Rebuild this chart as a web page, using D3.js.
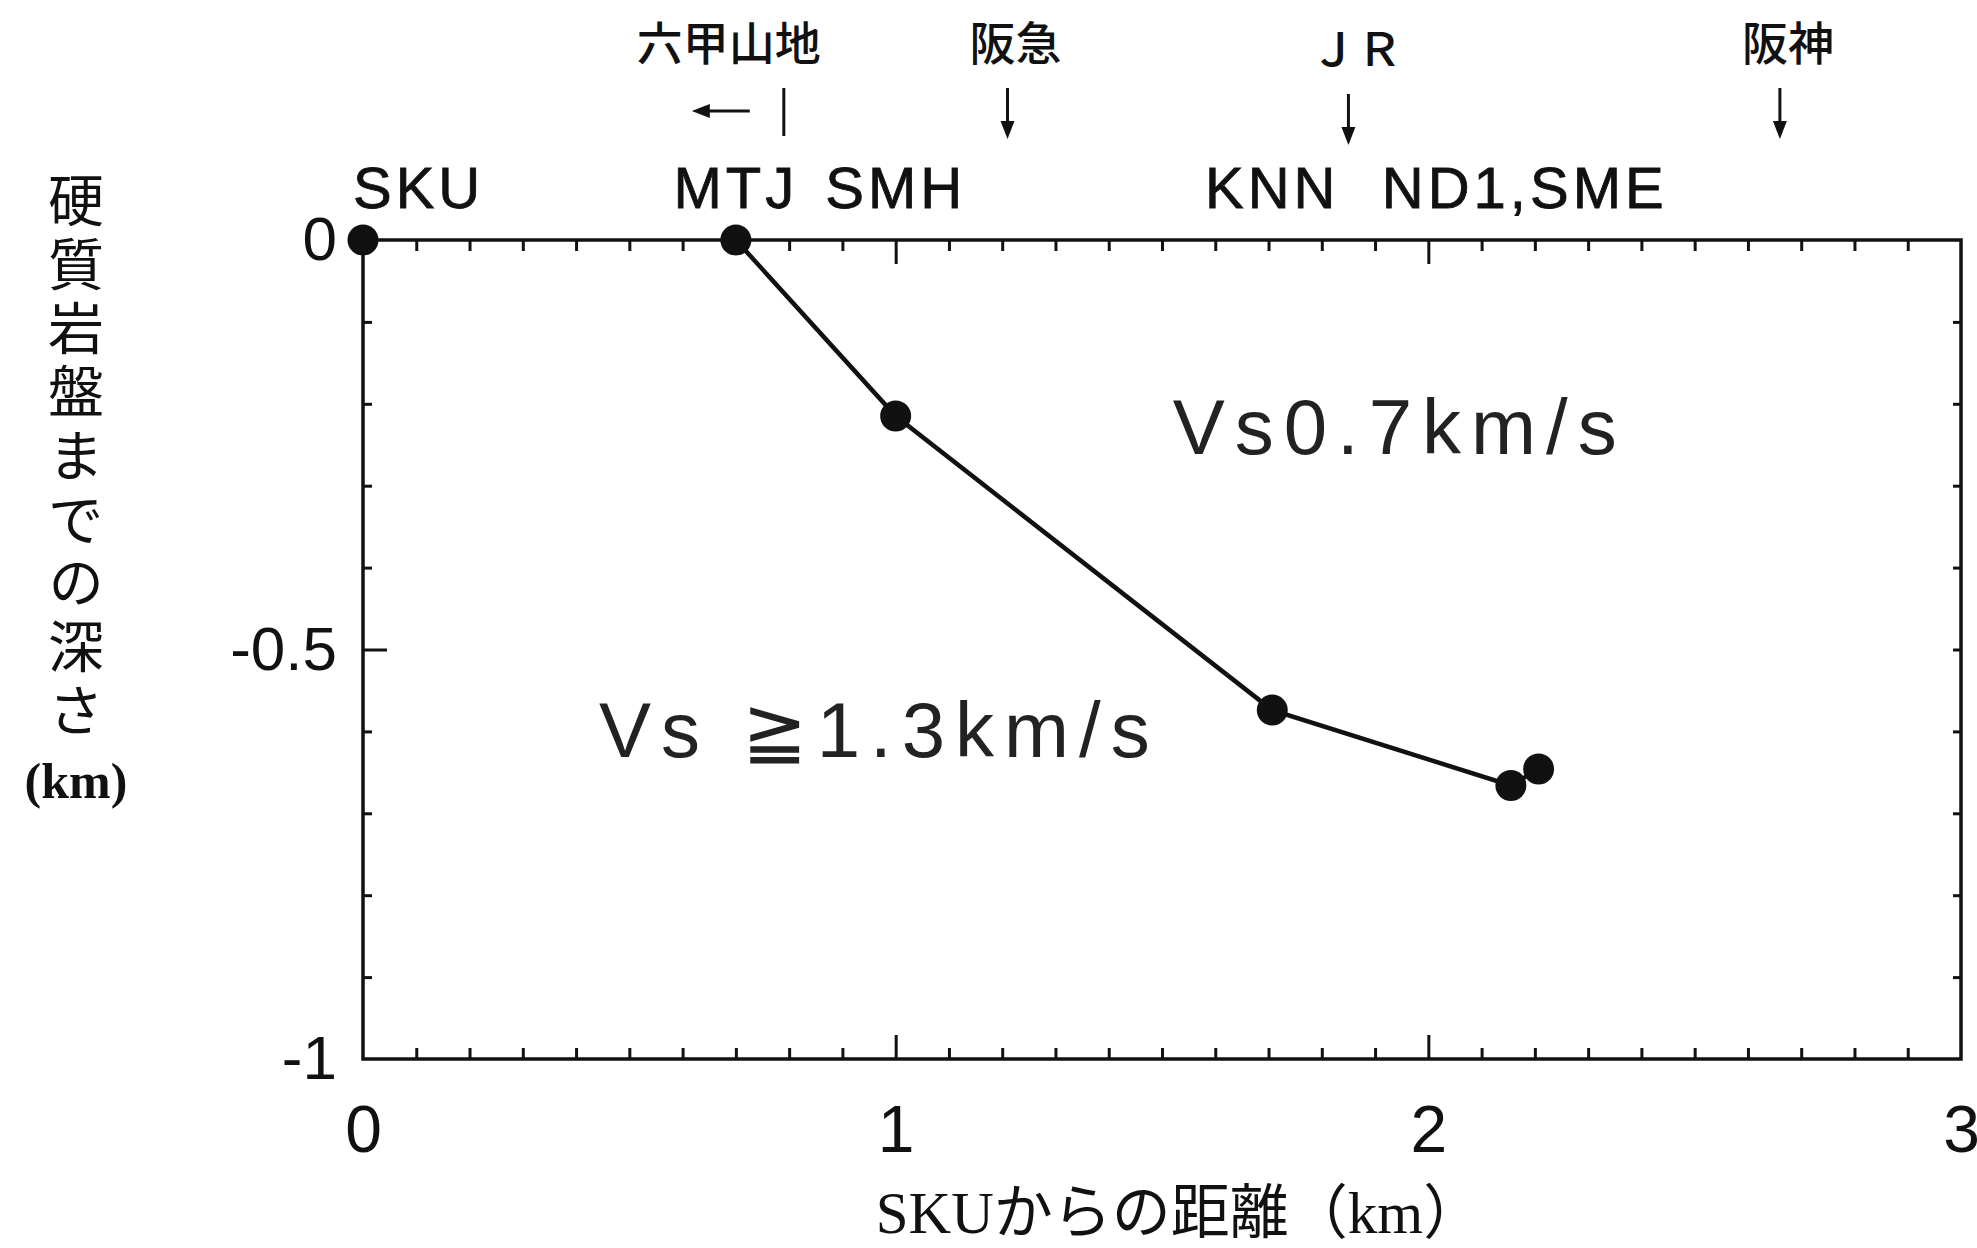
<!DOCTYPE html>
<html>
<head>
<meta charset="utf-8">
<script src="https://cdn.jsdelivr.net/npm/d3@7"></script>
<style>
body { margin: 0; background: #fff; }
svg { display: block; }
.axis .domain { display: none; }
.axis line { stroke: #111; stroke-width: 3; }
.ticklabel text { font-family: "Liberation Sans", Arial, sans-serif; fill: #111; }
.station { font-family: "Liberation Sans", Arial, sans-serif; font-size: 58px; letter-spacing: 4px; fill: #111; stroke: #111; stroke-width: 0.8; }
.landmark { font-family: "Noto Sans CJK JP", sans-serif; font-size: 46px; font-weight: 500; fill: #111; }
.zone { font-family: "Liberation Sans", Arial, sans-serif; font-size: 78px; letter-spacing: 10px; fill: #222; }
.title { font-family: "Liberation Serif", "Noto Sans CJK JP", serif; fill: #111; }
</style>
</head>
<body>
<div class="chart-container"></div>
<script>
// stations along the profile (distance from SKU in km, depth to hard rock in km)
var stations = ["SKU", "MTJ", "SMH", "KNN", "ND1", "SME"];
var distance = [0, 0.70, 1.00, 1.707, 2.155, 2.207];
var depth    = [0, 0, -0.215, -0.574, -0.666, -0.646];

// labels printed above the frame; ND1 and SME share one
var stationGroups = [["SKU"], ["MTJ"], ["SMH"], ["KNN"], ["ND1", "SME"]];

// landmarks above the profile
var landmarks  = ["六甲山地", "阪急", "ＪＲ", "阪神"];
var landmarkX  = [0.79, 1.21, 1.85, 2.66];

// velocity zone labels
var zones  = ["Vs0.7km/s", "Vs ≧1.3km/s"];
var zoneX  = [1.52, 0.443];
var zoneY  = [-0.261, -0.631];

var xTicks = [0, 1, 2, 3];
var yTicks = [0, -0.5, -1];

var yTitle = "硬質岩盤までの深さ";
var yUnit = "(km)";
var xTitle = "SKUからの距離（km）";

var W = 1977, H = 1248;
var margin = {top: 240, left: 363},
    width = 1598,
    height = 819;

var x = d3.scaleLinear().domain([0, 3]).range([0, width]),
    y = d3.scaleLinear().domain([0, -1]).range([0, height]);

var svg = d3.select(".chart-container").append("svg")
    .attr("width", W)
    .attr("height", H);

var g = svg.append("g")
    .attr("transform", "translate(" + margin.left + "," + margin.top + ")");

var minorX = d3.range(1, 30).filter(function(i) { return i % 10 != 0; }).map(function(i) { return i / 10; });
var minorY = d3.range(1, 10).filter(function(i) { return i != 5; }).map(function(i) { return -i / 10; });

// inward ticks on all four sides
g.append("g").attr("class", "axis").call(d3.axisTop(x).tickValues(minorX).tickSize(-11).tickFormat(""));
g.append("g").attr("class", "axis").call(d3.axisTop(x).tickValues([1, 2]).tickSize(-24).tickFormat(""));
g.append("g").attr("class", "axis").attr("transform", "translate(0," + height + ")")
    .call(d3.axisBottom(x).tickValues(minorX).tickSize(-11).tickFormat(""));
g.append("g").attr("class", "axis").attr("transform", "translate(0," + height + ")")
    .call(d3.axisBottom(x).tickValues([1, 2]).tickSize(-24).tickFormat(""));
g.append("g").attr("class", "axis").call(d3.axisLeft(y).tickValues(minorY).tickSize(-9).tickFormat(""));
g.append("g").attr("class", "axis").call(d3.axisLeft(y).tickValues([-0.5]).tickSize(-24).tickFormat(""));
g.append("g").attr("class", "axis").attr("transform", "translate(" + width + ",0)")
    .call(d3.axisRight(y).tickValues(minorY.concat([-0.5])).tickSize(-8).tickFormat(""));

// tick labels
g.append("g").attr("class", "ticklabel").attr("transform", "translate(0," + height + ")")
    .call(d3.axisBottom(x).tickValues(xTicks).tickSize(0).tickPadding(46).tickFormat(function(d) { return String(d); }))
    .call(function(a) { a.select(".domain").remove(); })
    .selectAll("text").style("font-size", "66px");
g.append("g").attr("class", "ticklabel")
    .call(d3.axisLeft(y).tickValues(yTicks).tickSize(0).tickPadding(26).tickFormat(function(d) { return String(d); }))
    .call(function(a) { a.select(".domain").remove(); })
    .selectAll("text").style("font-size", "62px");

// frame
g.append("rect")
    .attr("width", width).attr("height", height)
    .attr("fill", "none").attr("stroke", "#111").attr("stroke-width", 3.5);

// profile line and points
var pts = distance.map(function(d, i) { return {name: stations[i], x: d, y: depth[i]}; });
var line = d3.line()
    .x(function(d) { return x(d.x); })
    .y(function(d) { return y(d.y); });
g.append("path")
    .datum(pts.slice(1))
    .attr("d", line)
    .attr("fill", "none").attr("stroke", "#111").attr("stroke-width", 4.5);
g.selectAll("circle.pt").data(pts).enter().append("circle")
    .attr("class", "pt")
    .attr("cx", function(d) { return x(d.x); })
    .attr("cy", function(d) { return y(d.y); })
    .attr("r", 15.5)
    .attr("fill", "#111");

// station names above the frame
g.selectAll("text.station").data(stationGroups).enter().append("text")
    .attr("class", "station")
    .attr("x", function(grp, i) {
        var m = d3.mean(grp, function(n) { return distance[stations.indexOf(n)]; });
        return i == 0 ? x(m) - 10 : x(m);
    })
    .attr("y", -32)
    .attr("text-anchor", function(grp, i) { return i == 0 ? "start" : "middle"; })
    .text(function(grp) { return grp.join(","); });

// landmarks with arrows
landmarks.forEach(function(name, i) {
    var lx = x(landmarkX[i]);
    if (i == 0) {
        g.append("text").attr("class", "landmark")
            .attr("x", lx - 55).attr("y", -180)
            .attr("text-anchor", "middle").text(name);
        g.append("line").attr("x1", lx).attr("x2", lx).attr("y1", -152).attr("y2", -104)
            .attr("stroke", "#111").attr("stroke-width", 3);
        // left-pointing arrow
        g.append("line").attr("x1", lx - 34).attr("x2", lx - 78).attr("y1", -129).attr("y2", -129)
            .attr("stroke", "#111").attr("stroke-width", 3);
        g.append("path")
            .attr("d", "M" + (lx - 92) + "," + (-129) + "L" + (lx - 74) + "," + (-136) + "L" + (lx - 74) + "," + (-122) + "Z")
            .attr("fill", "#111");
    } else {
        var off = name == "ＪＲ" ? 6 : 0;
        var top = -152 + off, tip = -101 + off;
        g.append("text").attr("class", "landmark")
            .attr("x", lx + 8).attr("y", -180 + off)
            .attr("text-anchor", "middle").text(name);
        g.append("line").attr("x1", lx).attr("x2", lx).attr("y1", top).attr("y2", tip - 12)
            .attr("stroke", "#111").attr("stroke-width", 3);
        g.append("path")
            .attr("d", "M" + lx + "," + tip + "L" + (lx - 7) + "," + (tip - 18) + "L" + (lx + 7) + "," + (tip - 18) + "Z")
            .attr("fill", "#111");
    }
});

// velocity zone labels
g.selectAll("text.zone").data(zones).enter().append("text")
    .attr("class", "zone")
    .attr("x", function(d, i) { return x(zoneX[i]); })
    .attr("y", function(d, i) { return y(zoneY[i]); })
    .attr("xml:space", "preserve")
    .text(function(d) { return d; });

// y title, written vertically
var yt = svg.append("g").attr("class", "title");
yt.append("text")
    .attr("x", 76).attr("y", 172)
    .style("writing-mode", "vertical-rl")
    .style("font-family", "'Noto Sans CJK JP', sans-serif")
    .style("font-size", "56px")
    .style("letter-spacing", "7.7px")
    .text(yTitle);
yt.append("text")
    .attr("x", 76).attr("y", 798)
    .attr("text-anchor", "middle")
    .style("font-size", "50px").style("font-weight", "bold")
    .text(yUnit);

// x title
svg.append("text").attr("class", "title")
    .attr("x", 1179).attr("y", 1233)
    .attr("text-anchor", "middle")
    .style("font-size", "59px")
    .text(xTitle);
</script>
</body>
</html>
